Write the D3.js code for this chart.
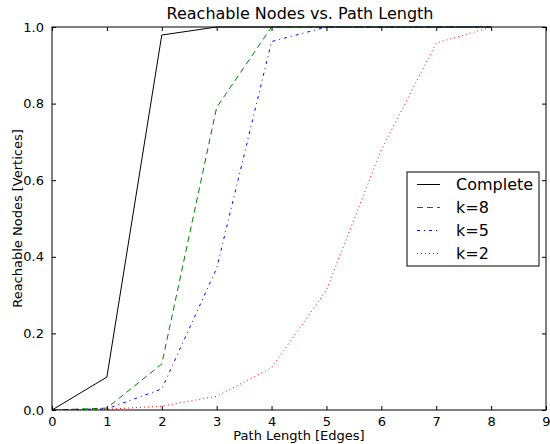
<!DOCTYPE html>
<html>
<head>
<meta charset="utf-8">
<script src="https://cdn.jsdelivr.net/npm/d3@7"></script>
<style>
body { margin: 0; background: #fff; }
text { font-family: "DejaVu Sans", sans-serif; fill: #000; }
</style>
</head>
<body>
<svg id="chart" width="550" height="444"></svg>
<script>
// path lengths and reachable fractions
var pathLen = [0, 1, 2, 3, 4, 5, 6, 7, 8];
var complete = [0, 0.086, 0.979, 1.0, 1.0, 1.0, 1.0, 1.0, 1.0];
var k8 = [0, 0.005, 0.12, 0.79, 1.0, 1.0, 1.0, 1.0, 1.0];
var k5 = [0, 0.003, 0.055, 0.37, 0.962, 1.0, 1.0, 1.0, 1.0];
var k2 = [0, 0.002, 0.01, 0.036, 0.11, 0.313, 0.68, 0.958, 1.0];
var seriesNames = ["Complete", "k=8", "k=5", "k=2"];
var xTicks = [0, 1, 2, 3, 4, 5, 6, 7, 8, 9];
var yTicks = [0.0, 0.2, 0.4, 0.6, 0.8, 1.0];

var styles = [
    { color: "#000000", dash: null, width: 1 },
    { color: "#008000", dash: "6,4", width: 1 },
    { color: "#0000ff", dash: "3,4,1,4", width: 1 },
    { color: "#ff0000", dash: "1,3", width: 1 }
];

var svg = d3.select("#chart");
var plotL = 52, plotR = 546, plotT = 27, plotB = 410;

var x = d3.scaleLinear().domain([0, 9]).range([plotL, plotR]);
var y = d3.scaleLinear().domain([0, 1]).range([plotB, plotT]);

// Clip to plot area
svg.append("clipPath").attr("id", "clip")
    .append("rect")
    .attr("x", plotL).attr("y", plotT - 1)
    .attr("width", plotR - plotL).attr("height", plotB - plotT + 1);

var allSeries = [complete, k8, k5, k2];
var line = d3.line()
    .x(function (d, i) { return x(pathLen[i]); })
    .y(function (d) { return y(d); });

svg.append("g").attr("clip-path", "url(#clip)")
    .selectAll("path")
    .data(allSeries)
    .enter()
    .append("path")
    .attr("d", line)
    .attr("fill", "none")
    .attr("stroke", function (d, i) { return styles[i].color; })
    .attr("stroke-width", function (d, i) { return styles[i].width; })
    .attr("stroke-dasharray", function (d, i) { return styles[i].dash; });

// Frame
svg.append("rect")
    .attr("x", plotL).attr("y", plotT)
    .attr("width", plotR - plotL).attr("height", plotB - plotT)
    .attr("fill", "none").attr("stroke", "#000").attr("stroke-width", 1);

// Axes with inward ticks on all sides
var xAxis = svg.append("g").attr("transform", "translate(0," + plotB + ")")
    .call(d3.axisBottom(x).tickValues(xTicks).tickSize(-4).tickPadding(7).tickFormat(d3.format("d")));
var xAxisTop = svg.append("g").attr("transform", "translate(0," + plotT + ")")
    .call(d3.axisTop(x).tickValues(xTicks).tickSize(-4).tickFormat(""));
var yAxis = svg.append("g").attr("transform", "translate(" + plotL + ",0)")
    .call(d3.axisLeft(y).tickValues(yTicks).tickSize(-4).tickPadding(8).tickFormat(d3.format(".1f")));
var yAxisRight = svg.append("g").attr("transform", "translate(" + plotR + ",0)")
    .call(d3.axisRight(y).tickValues(yTicks).tickSize(-4).tickFormat(""));

[xAxis, xAxisTop, yAxis, yAxisRight].forEach(function (g) {
    g.select(".domain").remove();
    g.selectAll("text").style("font-size", "13px").style("font-family", "DejaVu Sans").attr("fill", "#000");
    g.selectAll("line").attr("stroke", "#000");
});

// Title and labels
svg.append("text")
    .attr("x", (plotL + plotR) / 2 + 1).attr("y", 19)
    .attr("text-anchor", "middle")
    .style("font-size", "16px")
    .text("Reachable Nodes vs. Path Length");

svg.append("text")
    .attr("x", (plotL + plotR) / 2).attr("y", 440)
    .attr("text-anchor", "middle")
    .style("font-size", "13px")
    .text("Path Length [Edges]");

svg.append("text")
    .attr("transform", "translate(22," + ((plotT + plotB) / 2) + ") rotate(-90)")
    .attr("text-anchor", "middle")
    .style("font-size", "13px")
    .text("Reachable Nodes [Vertices]");

// Legend
var legend = svg.append("g").attr("transform", "translate(407,172)");
legend.append("rect")
    .attr("width", 132).attr("height", 94)
    .attr("fill", "#fff").attr("stroke", "#000").attr("stroke-width", 1);

var items = legend.selectAll("g.item")
    .data(seriesNames)
    .enter()
    .append("g")
    .attr("class", "item")
    .attr("transform", function (d, i) { return "translate(0," + (12.5 + i * 23) + ")"; });

items.append("line")
    .attr("x1", 10).attr("x2", 33)
    .attr("y1", 0).attr("y2", 0)
    .attr("stroke", function (d, i) { return styles[i].color; })
    .attr("stroke-dasharray", function (d, i) { return styles[i].dash; });

items.append("text")
    .attr("x", 49).attr("y", 5.5)
    .style("font-size", "16px")
    .text(function (d) { return d; });
</script>
</body>
</html>
